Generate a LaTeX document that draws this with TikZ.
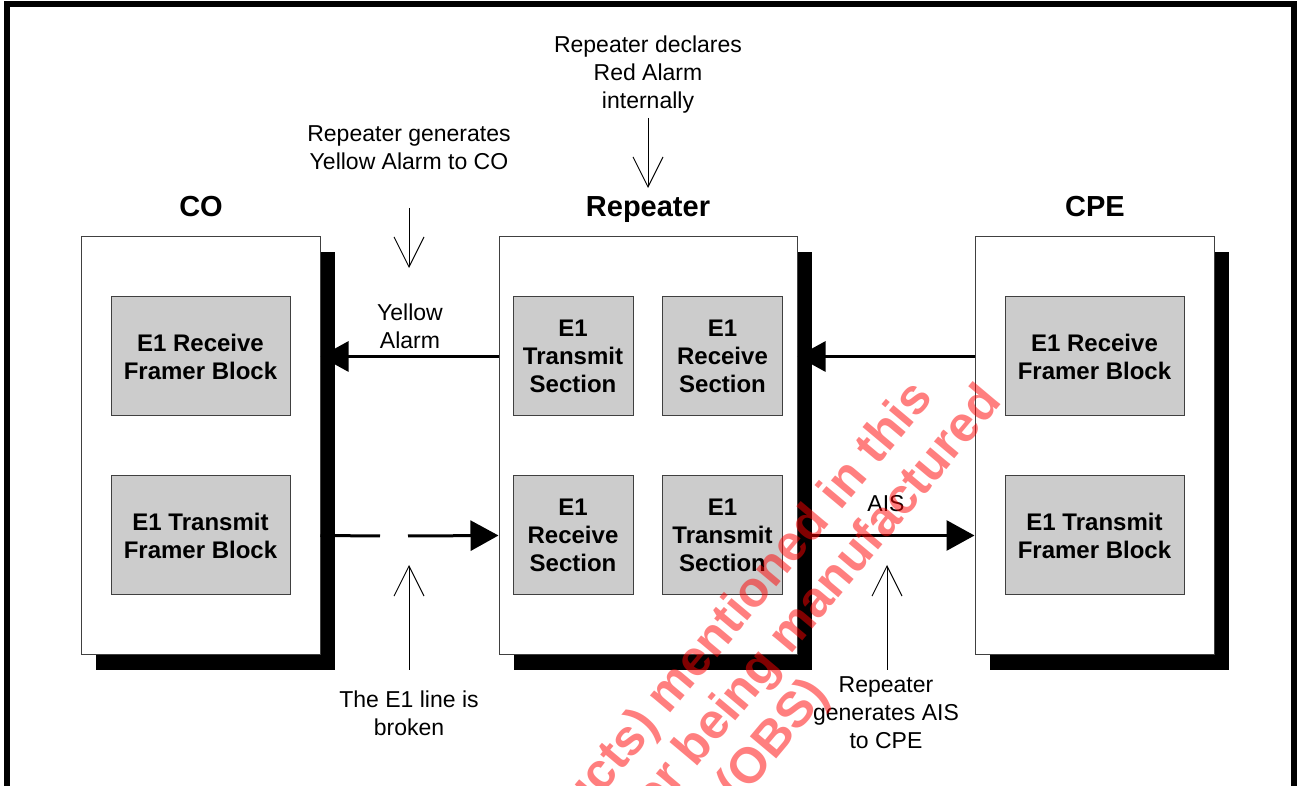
\documentclass[tikz,border=0pt]{standalone}
\usepackage{fontspec}
\setmainfont{Liberation Sans}
\usetikzlibrary{arrows.meta,shadows}

\begin{document}
\begin{tikzpicture}[x=0.5pt,y=-0.5pt,
    site/.style={draw=black!75,line width=0.5pt,fill=white,minimum height=209pt,inner sep=0pt,
      drop shadow={shadow xshift=7.5pt,shadow yshift=-7.5pt,fill=black,opacity=1}},
    blk/.style={draw=black!75,line width=0.5pt,fill=black!20,minimum height=59.5pt,inner sep=0pt,
      align=center,font=\fontsize{12}{14}\selectfont\bfseries},
    ttl/.style={font=\fontsize{14.5}{17}\selectfont\bfseries,anchor=base,inner sep=0pt},
    note/.style={font=\fontsize{11.5}{14}\selectfont,align=center,anchor=north,inner sep=0pt},
    sig/.style={line width=1.5pt,-{Triangle[length=14pt,width=15pt]}},
    ptr/.style={line width=0.5pt,-{Straight Barb[length=15pt,width=15pt]}},
    wm/.style={font=\fontsize{25}{30}\selectfont\bfseries,text=red,opacity=0.5,
      rotate=50,anchor=base east,inner sep=0pt}]
  \useasboundingbox (0,0) rectangle (1298,786);
  \draw[line width=3pt] (7,800) -- (7,4) -- (1294,4) -- (1294,800);

  % the three sites
  \node[site,minimum width=119.5pt] (co) at (200.5,446) {};
  \node[site,minimum width=149pt] (rep) at (648,446) {};
  \node[site,minimum width=119.5pt] (cpe) at (1094.5,446) {};
  \node[ttl] (coT) at (201,217) {CO};
  \node[ttl] (repT) at (648,217) {Repeater};
  \node[ttl] (cpeT) at (1095,217) {CPE};

  % blocks
  \node[blk,minimum width=89.5pt] (coRx) at (200.5,356.5) {E1 Receive\\Framer Block};
  \node[blk,minimum width=89.5pt] (coTx) at (200.5,535.5) {E1 Transmit\\Framer Block};
  \node[blk,minimum width=60pt] (repTx) at (573,356.5) {E1\\Transmit\\Section};
  \node[blk,minimum width=60pt] (repRx) at (722.5,356.5) {E1\\Receive\\Section};
  \node[blk,minimum width=60pt] (repRx2) at (573,535.5) {E1\\Receive\\Section};
  \node[blk,minimum width=60pt] (repTx2) at (722.5,535.5) {E1\\Transmit\\Section};
  \node[blk,minimum width=89.5pt] (cpeRx) at (1094.5,356.5) {E1 Receive\\Framer Block};
  \node[blk,minimum width=89.5pt] (cpeTx) at (1094.5,535.5) {E1 Transmit\\Framer Block};

  % E1 lines
  \coordinate (cut1) at (380,536);
  \coordinate (cut2) at (408,536);
  \draw[sig] (rep.west |- repTx) -- (co.east |- repTx);
  \draw[sig] (cpe.west |- cpeRx) -- (rep.east |- repRx);
  \draw[sig] (rep.east |- repTx2) -- (cpe.west |- cpeTx);
  \draw[line width=1.5pt] (co.east |- coTx) -- (cut1);
  \draw[sig] (cut2) -- (rep.west |- repRx2);

  % notes
  \node[note] (redN) at (648,35.5) {Repeater declares\\Red Alarm\\internally};
  \node[note] (ylwN) at (409,125.5) {Repeater generates\\Yellow Alarm to CO};
  \node[note] (ylwL) at (410,303.5) {Yellow\\Alarm};
  \node[note] (aisL) at (886,495.5) {AIS};
  \node[note] (brkN) at (409,690.5) {The E1 line is\\broken};
  \node[note] (aisN) at (886,676.5) {Repeater\\generates AIS\\to CPE};

  \coordinate (redA) at (648,118);  \coordinate (redB) at (648,188);
  \coordinate (ylwA) at (409,208);  \coordinate (ylwB) at (409,268);
  \coordinate (brkA) at (409,670);  \coordinate (brkB) at (409,565);
  \coordinate (aisA) at (887,670);  \coordinate (aisB) at (887,565);
  \foreach \p in {red,ylw,brk,ais}{\draw[ptr] (\p A) -- (\p B);}

  % watermark
  \begin{scope}
    \clip (0,0) rectangle (1298,786);
    \node[wm] (wm1) at (935,398) {ucts) mentioned in this};
    \node[wm] (wm2) at (1003,402) {er being manufactured};
    \node[wm] (wm3) at (830,695) {(OBS)};
  \end{scope}
\end{tikzpicture}
\end{document}
